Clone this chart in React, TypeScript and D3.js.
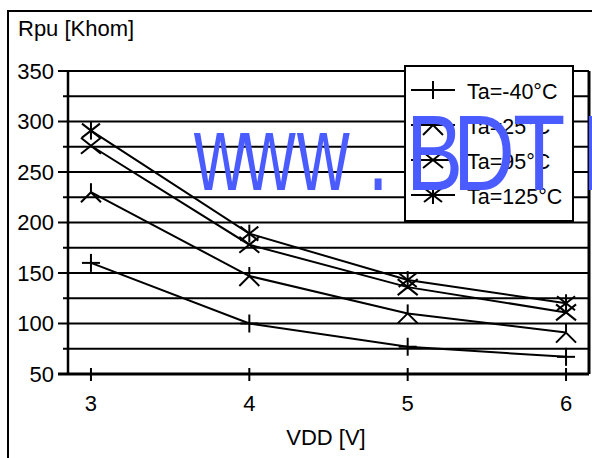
import React from "react";
import * as d3 from "d3";

const vdd = [3, 4, 5, 6];
const seriesNames = ["Ta=-40°C", "Ta=25°C", "Ta=95°C", "Ta=125°C"];
const tMinus40 = [160, 100, 77, 67];
const t25 = [230, 147, 110, 91];
const t95 = [276, 178, 136, 111];
const t125 = [291, 189, 143, 120];
const yMajorTicks = [50, 100, 150, 200, 250, 300, 350];
const yMinorTicks = [75, 125, 175, 225, 275, 325];
const xTicks = [3, 4, 5, 6];
const markerKinds = ["plus", "tri", "x", "star"];
const watermarkA = "www.";
const watermarkB = "BDTI";

const W = 592;
const H = 458;
const left = 68;
const right = 589;
const top = 71;
const bottom = 374;
const FONT = "'Liberation Sans', Arial, sans-serif";

function Marker({ kind, cx, cy }: { kind: string; cx: number; cy: number }) {
  const s = 9;
  const st = { stroke: "#000", strokeWidth: 2, fill: "none" } as const;
  if (kind === "plus") {
    return (
      <g>
        <line x1={cx} y1={cy - s} x2={cx} y2={cy + s} {...st} />
        <line x1={cx - s} y1={cy} x2={cx + s} y2={cy} {...st} />
      </g>
    );
  }
  if (kind === "tri") {
    return (
      <g>
        <line x1={cx} y1={cy} x2={cx} y2={cy - 9} {...st} />
        <line x1={cx} y1={cy} x2={cx - 10} y2={cy + 10} {...st} />
        <line x1={cx} y1={cy} x2={cx + 10} y2={cy + 10} {...st} />
      </g>
    );
  }
  if (kind === "x") {
    return (
      <g>
        <line x1={cx - 10} y1={cy - 8} x2={cx + 10} y2={cy + 8} {...st} />
        <line x1={cx - 10} y1={cy + 8} x2={cx + 10} y2={cy - 8} {...st} />
      </g>
    );
  }
  return (
    <g>
      <line x1={cx} y1={cy - s} x2={cx} y2={cy + s} {...st} />
      <line x1={cx - 9} y1={cy - 7} x2={cx + 9} y2={cy + 7} {...st} />
      <line x1={cx - 9} y1={cy + 7} x2={cx + 9} y2={cy - 7} {...st} />
    </g>
  );
}

export default function App() {
  const x = d3.scaleLinear().domain([2.855, 6.145]).range([left, right]);
  const y = d3.scaleLinear().domain([50, 350]).range([bottom, top]);
  const series = [tMinus40, t25, t95, t125];
  const line = d3
    .line<number>()
    .x((_, i) => x(vdd[i]))
    .y((v) => y(v))
    .curve(d3.curveLinear);

  const wmXA = [194, 243, 297, 368];
  const sxA = 0.68;
  const wmXB = [406, 453, 513, 581];
  const sxB = 0.8;

  return (
    <svg
      width={W}
      height={H}
      style={{ position: "absolute", left: 0, top: 0, background: "#fff" }}
    >
      <rect x={0} y={0} width={W} height={H} fill="#fff" />
      <rect x={8} y={11} width={700} height={600} fill="none" stroke="#000" strokeWidth={2} />
      <text x={18} y={36} fontFamily={FONT} fontSize={22} fill="#000">
        Rpu [Khom]
      </text>

      {yMinorTicks.map((t) => (
        <line key={"mi" + t} x1={63} x2={right} y1={y(t)} y2={y(t)} stroke="#000" strokeWidth={2} />
      ))}
      {yMajorTicks.map((t) => (
        <line
          key={"ma" + t}
          x1={58}
          x2={right}
          y1={y(t)}
          y2={y(t)}
          stroke="#000"
          strokeWidth={t === 50 ? 3 : 2}
        />
      ))}
      {yMajorTicks.map((t) => (
        <text
          key={"yl" + t}
          x={54}
          y={y(t) + 7.5}
          textAnchor="end"
          fontFamily={FONT}
          fontSize={22}
          fill="#000"
        >
          {t}
        </text>
      ))}
      <line x1={left} x2={left} y1={top} y2={bottom} stroke="#000" strokeWidth={2.5} />
      <line x1={right} x2={right} y1={top} y2={bottom} stroke="#000" strokeWidth={3} />

      {xTicks.map((t) => (
        <g key={"xt" + t}>
          <line x1={x(t)} x2={x(t)} y1={368} y2={381} stroke="#000" strokeWidth={2} />
          <text x={x(t)} y={411} textAnchor="middle" fontFamily={FONT} fontSize={22} fill="#000">
            {t}
          </text>
        </g>
      ))}
      <text x={326} y={445} textAnchor="middle" fontFamily={FONT} fontSize={22} fill="#000">
        VDD [V]
      </text>

      {series.map((s, si) => (
        <g key={"s" + si}>
          <path d={line(s) || ""} fill="none" stroke="#000" strokeWidth={2} />
          {s.map((v, i) => (
            <Marker key={i} kind={markerKinds[si]} cx={x(vdd[i])} cy={y(v)} />
          ))}
        </g>
      ))}

      <rect x={405} y={66} width={168} height={155} fill="#fff" stroke="#000" strokeWidth={2} />
      {seriesNames.map((n, i) => {
        const cy = 90 + i * 35;
        return (
          <g key={"lg" + i}>
            <line x1={411} x2={455} y1={cy} y2={cy} stroke="#000" strokeWidth={2} />
            <Marker kind={markerKinds[i]} cx={433} cy={cy} />
            <text x={467} y={cy + 8.5} fontFamily={FONT} fontSize={21.5} fill="#000">
              {n}
            </text>
          </g>
        );
      })}

      <g transform={`translate(0,190) scale(${sxA},1)`}>
        <text x={wmXA.map((v) => v / sxA).join(" ")} y={0} fontFamily={FONT} fontSize={107} fill="#4a5cff">
          {watermarkA}
        </text>
      </g>
      <g transform={`translate(0,190) scale(${sxB},1)`}>
        <text x={wmXB.map((v) => v / sxB).join(" ")} y={0} fontFamily={FONT} fontSize={107} fill="#4a5cff">
          {watermarkB}
        </text>
      </g>
    </svg>
  );
}
